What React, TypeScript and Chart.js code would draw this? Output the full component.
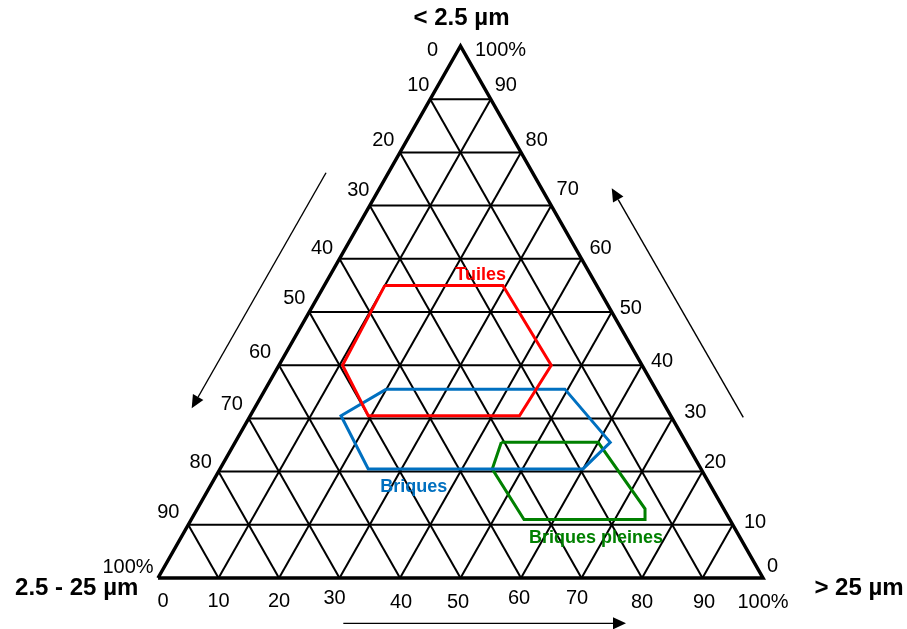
import React, { useEffect, useRef } from "react";
import { Chart, registerables } from "chart.js";

Chart.register(...registerables);

// ---- data ----
const tickValues = [0, 10, 20, 30, 40, 50, 60, 70, 80, 90, 100];
const tickLabels = ["0", "10", "20", "30", "40", "50", "60", "70", "80", "90", "100%"];
const vertexTitles = ["< 2.5 µm", "2.5 - 25 µm", "> 25 µm"];
const zoneNames = ["Tuiles", "Briques", "Briques pleines"];

// zone outlines: % of fraction < 2.5 µm (fine) and % of fraction > 25 µm (coarse)
const tuilesFine = [55, 55, 40, 30.5, 30.5, 40];
const tuilesCoarse = [10, 29.5, 45, 44.5, 19.5, 10.5];
const briquesFine = [35.5, 35.5, 25.5, 20.5, 20.5, 30.5];
const briquesCoarse = [20, 49.5, 62, 60, 24.5, 15];
const pleinesFine = [25.5, 25.5, 13, 11, 11, 20.5];
const pleinesCoarse = [44, 60, 74, 75, 55, 45];

// ---- style / layout constants ----
const FONT = '"Liberation Sans", Arial, Helvetica, sans-serif';
const RED = "#ff0000";
const BLUE = "#0070c0";
const GREEN = "#008000";

// ternary -> cartesian (unit triangle)
const toXY = (fine: number, coarse: number) => ({
  x: (coarse + fine / 2) / 100,
  y: fine / 100,
});

// label offsets (px) relative to tick points
const leftOffsets = [
  [-28, 4], [-12, -14], [-16.7, -11.7], [-11.5, -15.6], [-17.5, -10], [-15, -14],
  [-19, -13], [-17, -14], [-17.8, -9.3], [-20, -12], [-30, -11],
];
const rightOffsets = [
  [9.5, -12], [22.3, -2.1], [12.5, -9], [23, -6], [20, -3.5], [19, -4],
  [19, -10], [16.4, -16.6], [15.7, -11.7], [15, -13.5], [40, 4],
];
const bottomOffsets = [
  [5, 23], [0, 23], [0, 23], [-5, 20], [1, 24], [-2.5, 24],
  [-2, 20], [-4.5, 20], [0, 24], [1.5, 24], [0, 24],
];

// positions in chart space for annotations
const zoneLabelPos = [
  { x: 0.5334, y: 0.5695 },
  { x: 0.4228, y: 0.1716 },
  { x: 0.724, y: 0.0746 },
];
const titlePos = [
  { x: 0.5017, y: 1.052 },
  { x: -0.1344, y: -0.0194 },
  { x: 1.1587, y: -0.0194 },
];
const arrows = [
  { from: { x: 0.2777, y: 0.7618 }, to: { x: 0.0557, y: 0.319 } },
  { from: { x: 0.9674, y: 0.302 }, to: { x: 0.75, y: 0.7325 } },
  { from: { x: 0.3063, y: -0.0852 }, to: { x: 0.7736, y: -0.0852 } },
];

function polygon(fine: number[], coarse: number[]) {
  const pts = fine.map((f, i) => toXY(f, coarse[i]));
  pts.push(pts[0]);
  return pts;
}

function buildDatasets() {
  const ds: any[] = [];
  const gridStyle = {
    borderColor: "#000000",
    borderWidth: 2,
    pointRadius: 0,
    showLine: true,
    fill: false,
    order: 3,
  };
  tickValues.forEach((t) => {
    if (t === 0 || t === 100) return;
    // constant fine fraction
    ds.push({ ...gridStyle, data: [toXY(t, 0), toXY(t, 100 - t)] });
    // constant coarse fraction
    ds.push({ ...gridStyle, data: [toXY(0, t), toXY(100 - t, t)] });
    // constant middle fraction
    ds.push({ ...gridStyle, data: [toXY(0, 100 - t), toXY(100 - t, 0)] });
  });
  ds.push({
    data: [toXY(0, 0), toXY(0, 100), toXY(100, 0), toXY(0, 0)],
    borderColor: "#000000",
    borderWidth: 3.5,
    pointRadius: 0,
    showLine: true,
    fill: false,
    borderJoinStyle: "miter",
    order: 2,
  });
  const zones = [
    { f: tuilesFine, c: tuilesCoarse, color: RED },
    { f: briquesFine, c: briquesCoarse, color: BLUE },
    { f: pleinesFine, c: pleinesCoarse, color: GREEN },
  ];
  zones.forEach((z, i) => {
    ds.push({
      label: zoneNames[i],
      data: polygon(z.f, z.c),
      borderColor: z.color,
      borderWidth: 3,
      pointRadius: 0,
      showLine: true,
      fill: false,
      borderJoinStyle: "miter",
      order: 1,
    });
  });
  return ds;
}

const annotationPlugin = {
  id: "ternaryAnnotations",
  afterDatasetsDraw(chart: any) {
    const ctx = chart.ctx as CanvasRenderingContext2D;
    const xs = chart.scales.x;
    const ys = chart.scales.y;
    const px = (p: { x: number; y: number }) => ({
      x: xs.getPixelForValue(p.x),
      y: ys.getPixelForValue(p.y),
    });
    ctx.save();
    ctx.fillStyle = "#000000";
    ctx.textAlign = "center";
    ctx.textBaseline = "middle";
    ctx.font = `20px ${FONT}`;
    tickValues.forEach((t, i) => {
      // left side: 2.5-25 µm, 0 at top
      const l = px(toXY(100 - t, 0));
      ctx.fillText(tickLabels[i], l.x + leftOffsets[i][0], l.y + leftOffsets[i][1]);
      // right side: < 2.5 µm, 100 at top
      const r = px(toXY(t, 100 - t));
      ctx.fillText(tickLabels[i], r.x + rightOffsets[i][0], r.y + rightOffsets[i][1]);
      // bottom: > 25 µm
      const b = px(toXY(0, t));
      ctx.fillText(tickLabels[i], b.x + bottomOffsets[i][0], b.y + bottomOffsets[i][1]);
    });

    ctx.font = `bold 24px ${FONT}`;
    vertexTitles.forEach((title, i) => {
      const p = px(titlePos[i]);
      ctx.fillText(title, p.x, p.y);
    });

    ctx.font = `bold 18px ${FONT}`;
    const zoneColors = [RED, BLUE, GREEN];
    zoneNames.forEach((name, i) => {
      const p = px(zoneLabelPos[i]);
      ctx.fillStyle = zoneColors[i];
      ctx.fillText(name, p.x, p.y);
    });

    // arrows
    ctx.strokeStyle = "#000000";
    ctx.fillStyle = "#000000";
    ctx.lineWidth = 1.4;
    arrows.forEach((a) => {
      const s = px(a.from);
      const e = px(a.to);
      const ang = Math.atan2(e.y - s.y, e.x - s.x);
      const headLen = 13;
      const headHalf = 6;
      const bx = e.x - headLen * Math.cos(ang);
      const by = e.y - headLen * Math.sin(ang);
      ctx.beginPath();
      ctx.moveTo(s.x, s.y);
      ctx.lineTo(bx, by);
      ctx.stroke();
      ctx.beginPath();
      ctx.moveTo(e.x, e.y);
      ctx.lineTo(bx + headHalf * Math.sin(ang), by - headHalf * Math.cos(ang));
      ctx.lineTo(bx - headHalf * Math.sin(ang), by + headHalf * Math.cos(ang));
      ctx.closePath();
      ctx.fill();
    });
    ctx.restore();
  },
};

export default function App() {
  const canvasRef = useRef<HTMLCanvasElement | null>(null);

  useEffect(() => {
    if (!canvasRef.current) return;
    const chart = new Chart(canvasRef.current, {
      type: "scatter",
      data: { datasets: buildDatasets() },
      options: {
        animation: false,
        responsive: true,
        maintainAspectRatio: false,
        layout: { padding: 0 },
        plugins: {
          legend: { display: false },
          tooltip: { enabled: false },
        },
        elements: { line: { tension: 0 } },
        scales: {
          x: { type: "linear", display: false, min: -0.26116, max: 1.23802 },
          y: { type: "linear", display: false, min: -0.09586, max: 1.08647 },
        },
      },
      plugins: [annotationPlugin],
    });
    return () => chart.destroy();
  }, []);

  return (
    <div
      style={{
        position: "fixed",
        left: 0,
        top: 0,
        width: 907,
        height: 629,
        background: "#ffffff",
      }}
    >
      <canvas ref={canvasRef} />
    </div>
  );
}
